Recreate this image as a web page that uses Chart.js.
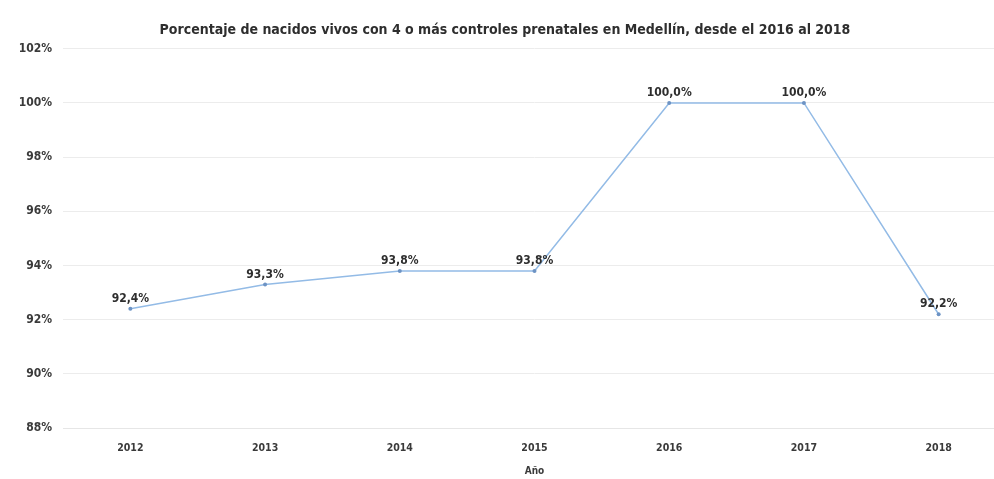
<!DOCTYPE html>
<html>
<head>
<meta charset="utf-8">
<script src="https://cdn.jsdelivr.net/npm/chart.js@4"></script>
<style>
  html, body { margin: 0; padding: 0; background: #fff; overflow: hidden; }
  #wrap { width: 1010px; height: 479px; }
</style>
</head>
<body>
<div id="wrap"><canvas id="chart"></canvas></div>
<script>
const years = ['2012', '2013', '2014', '2015', '2016', '2017', '2018'];
const pctNacidos = [92.4, 93.3, 93.8, 93.8, 100.0, 100.0, 92.2];
const yTicks = [88, 90, 92, 94, 96, 98, 100, 102];

const FONT = '"DejaVu Sans Condensed", "DejaVu Sans", sans-serif';
const fmtPct = v => v.toFixed(1).replace('.', ',') + '%';

// etiquetas de datos encima de cada punto
const pointLabels = {
  id: 'pointLabels',
  afterDatasetsDraw(chart) {
    const ctx = chart.ctx;
    const meta = chart.getDatasetMeta(0);
    ctx.save();
    ctx.font = 'bold 12px ' + FONT;
    ctx.fillStyle = '#2e2e2e';
    ctx.textAlign = 'center';
    ctx.textBaseline = 'bottom';
    meta.data.forEach((pt, i) => {
      ctx.fillText(fmtPct(pctNacidos[i]), pt.x, pt.y - 4);
    });
    ctx.restore();
  }
};

new Chart(document.getElementById('chart'), {
  type: 'line',
  plugins: [pointLabels],
  data: {
    labels: years,
    datasets: [{
      data: pctNacidos,
      borderColor: '#93bbe6',
      backgroundColor: '#6d93c4',
      borderWidth: 1.5,
      pointRadius: 2,
      pointBorderWidth: 0,
      tension: 0,
    }]
  },
  options: {
    responsive: true, maintainAspectRatio: false,
    animation: false,
    layout: { padding: { top: 0, right: 0, bottom: 2, left: 0 } },
    plugins: {
      legend: { display: false },
      tooltip: { enabled: false },
      title: {
        display: true,
        text: 'Porcentaje de nacidos vivos con 4 o más controles prenatales en Medellín, desde el 2016 al 2018',
        color: '#2e2e2e',
        font: { family: FONT, size: 14, weight: 'bold' },
        padding: { top: 22, bottom: 10 },
      },
    },
    scales: {
      x: {
        offset: true,
        grid: { display: false },
        border: { color: '#e6e6e6' },
        ticks: { color: '#3a3a3a', font: { family: FONT, size: 10.5, weight: 'bold' }, padding: 6 },
        title: {
          display: true, text: 'Año', color: '#3a3a3a',
          font: { family: FONT, size: 10, weight: 'bold' },
          padding: { top: 12, bottom: 0 },
        },
        afterFit: axis => { axis.height = 49; },
      },
      y: {
        min: 88, max: 102,
        afterBuildTicks: axis => { axis.ticks = yTicks.map(v => ({ value: v })); },
        grid: { color: '#ececec', drawTicks: false },
        border: { display: false },
        ticks: {
          color: '#3a3a3a', padding: 11,
          font: { family: FONT, size: 12, weight: 'bold' },
          callback: v => v + '%',
        },
        afterFit: axis => { axis.width = 63; },
      }
    }
  }
});
</script>
</body>
</html>
